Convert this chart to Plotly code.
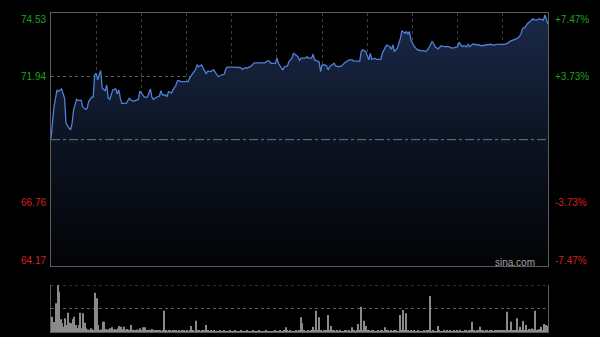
import plotly.graph_objects as go

# ---- data (intraday, HK session 09:30-12:00, 13:00-16:00; minute index 0..330) ----
minutes = [
    0, 2, 4, 5, 6, 7, 9, 10, 12, 13,
    14, 15, 17, 18, 20, 21, 23, 24, 25, 27,
    28, 29, 30, 31, 32, 33, 34, 35, 36, 37,
    38, 39, 41, 42, 43, 44, 45, 46, 47, 49,
    50, 52, 53, 55, 57, 58, 59, 61, 62, 64,
    66, 67, 68, 70, 72, 73, 74, 76, 77, 78,
    80, 81, 83, 84, 85, 86, 91, 92, 95, 96,
    97, 98, 100, 101, 103, 104, 106, 107, 108, 110,
    111, 113, 115, 116, 117, 121, 123, 126, 127, 129,
    130, 132, 133, 135, 140, 142, 144, 145, 146, 148,
    149, 150, 151, 153, 154, 155, 157, 158, 159, 160,
    161, 163, 164, 165, 166, 169, 170, 171, 173, 174,
    175, 178, 179, 180, 182, 183, 184, 185, 188, 189,
    191, 193, 195, 198, 200, 201, 205, 206, 207, 209,
    210, 211, 212, 213, 215, 216, 219, 220, 222, 223,
    225, 226, 227, 228, 230, 231, 232, 233, 235, 236,
    237, 238, 239, 241, 243, 245, 247, 249, 251, 253,
    254, 255, 257, 259, 261, 264, 266, 268, 270, 271,
    273, 274, 276, 277, 278, 280, 282, 284, 286, 290,
    292, 294, 296, 301, 303, 305, 307, 310, 312, 313,
    315, 316, 318, 320, 321, 323, 324, 327, 328, 329,
    330,
]
prices = [
    69.40, 70.70, 71.39, 71.32, 71.39, 71.43, 71.05, 70.02, 69.82, 69.75,
    70.02, 70.57, 71.00, 70.95, 70.97, 70.70, 70.59, 70.63, 70.91, 71.09,
    71.09, 72.00, 72.07, 71.80, 72.00, 72.18, 71.46, 71.39, 71.36, 71.59,
    71.05, 71.00, 71.39, 71.41, 71.43, 71.22, 71.39, 71.05, 70.84, 70.84,
    70.84, 71.05, 70.97, 70.93, 70.97, 71.00, 71.34, 71.14, 71.09, 71.09,
    71.43, 71.09, 71.00, 71.09, 71.14, 71.36, 71.18, 71.18, 71.11, 71.32,
    71.27, 71.39, 71.59, 71.77, 71.77, 71.73, 71.73, 71.87, 72.14, 72.23,
    72.41, 72.34, 72.41, 72.28, 72.04, 72.16, 72.14, 72.18, 72.21, 72.03,
    71.93, 72.00, 72.03, 72.23, 72.32, 72.32, 72.30, 72.30, 72.23, 72.30,
    72.28, 72.32, 72.37, 72.50, 72.50, 72.50, 72.59, 72.57, 72.48, 72.50,
    72.48, 72.69, 72.48, 72.28, 72.21, 72.34, 72.37, 72.55, 72.64, 72.69,
    72.89, 72.82, 72.75, 72.59, 72.69, 72.69, 72.75, 72.69, 72.69, 72.85,
    72.62, 72.55, 72.14, 72.41, 72.41, 72.37, 72.21, 72.34, 72.48, 72.37,
    72.34, 72.37, 72.50, 72.62, 72.62, 72.57, 72.57, 72.96, 73.03, 72.96,
    72.75, 72.62, 72.89, 72.64, 72.69, 72.64, 72.64, 72.89, 73.14, 73.23,
    73.16, 73.05, 73.23, 72.96, 73.10, 73.30, 73.51, 73.82, 73.71, 73.78,
    73.68, 73.78, 73.44, 73.19, 73.05, 73.00, 73.00, 72.96, 73.12, 73.37,
    73.30, 73.16, 73.07, 73.20, 73.16, 73.16, 73.10, 73.12, 73.16, 73.34,
    73.16, 73.20, 73.16, 73.26, 73.16, 73.27, 73.26, 73.23, 73.20, 73.23,
    73.26, 73.23, 73.26, 73.26, 73.30, 73.39, 73.44, 73.51, 73.67, 73.89,
    73.98, 74.08, 74.19, 74.30, 74.26, 74.26, 74.30, 74.26, 74.46, 74.26,
    74.08,
]

# volume per minute (minute 0..330)
volume = [
    153, 100, 100, 287, 470, 403, 127, 87, 53, 137, 70, 193, 93, 87, 127, 153, 70, 40, 70, 193, 37, 187, 93, 37, 25, 20, 37, 27, 20, 393,
    337, 70, 20, 25, 103, 103, 30, 22, 28, 37, 47, 25, 30, 22, 35, 60, 53, 28, 53, 22, 30, 25, 18, 70, 22, 15, 20, 25, 18, 37,
    20, 47, 47, 18, 15, 22, 15, 30, 12, 15, 18, 12, 15, 10, 14, 213, 12, 10, 15, 12, 10, 14, 12, 18, 10, 12, 10, 15, 12, 10,
    12, 10, 14, 60, 12, 10, 113, 15, 12, 10, 14, 12, 15, 70, 12, 10, 14, 10, 12, 10, 8, 10, 12, 9, 10, 12, 10, 8, 10, 12,
    10, 8, 12, 10, 9, 10, 12, 8, 10, 9, 12, 10, 8, 10, 12, 9, 8, 10, 12, 10, 8, 9, 10, 12, 8, 10, 9, 8, 10, 12,
    10, 8, 12, 10, 9, 12, 47, 15, 10, 12, 8, 10, 9, 12, 10, 14, 147, 87, 12, 10, 9, 12, 10, 15, 53, 12, 213, 14, 147, 12,
    10, 12, 14, 15, 170, 12, 60, 15, 12, 10, 14, 10, 12, 10, 9, 12, 15, 10, 12, 10, 47, 12, 10, 14, 80, 12, 253, 15, 113, 60,
    15, 12, 10, 14, 12, 10, 9, 12, 10, 12, 14, 10, 47, 20, 12, 10, 14, 10, 15, 12, 10, 9, 170, 12, 220, 15, 187, 12, 10, 14,
    10, 12, 9, 10, 12, 8, 10, 9, 12, 10, 14, 12, 360, 10, 12, 9, 10, 60, 12, 10, 9, 12, 10, 14, 10, 12, 9, 10, 12, 10,
    12, 10, 14, 9, 10, 12, 15, 10, 12, 14, 103, 12, 10, 14, 12, 53, 15, 12, 10, 14, 12, 10, 15, 12, 10, 14, 12, 15, 12, 14,
    15, 12, 18, 203, 15, 14, 103, 18, 15, 14, 137, 20, 53, 18, 110, 20, 70, 18, 30, 25, 35, 28, 213, 20, 25, 30, 53, 20, 80, 70,
    60,
]
volume_minutes = list(range(len(volume)))

prev_close = 69.35
price_ticks = [74.53, 71.94, 66.76, 64.17]
pct_labels = ["+7.47%", "+3.73%", "-3.73%", "-7.47%"]
grid_minutes = [30, 60, 90, 120, 150, 180, 210, 240, 270, 300]
vol_max = 470

assert len(minutes) == len(prices)

W, H = 600, 337
xl, xr = 51 / W, 548 / W
main_top, main_bot = 1 - 13.3 / H, 1 - 266 / H
vol_top, vol_bot = 1 - 285 / H, 1 - 332 / H

fig = go.Figure()
fig.add_trace(go.Scatter(
    x=minutes, y=prices, mode="lines",
    line=dict(color="#4f80d6", width=1.3),
    fill="tozeroy",
    fillgradient=dict(type="vertical",
                      colorscale=[[0, "#030407"], [0.5, "#0c1322"], [1, "#1b2a4a"]],
                      start=price_ticks[-1], stop=price_ticks[0]),
    hoverinfo="skip", xaxis="x", yaxis="y",
))
fig.add_trace(go.Bar(
    x=volume_minutes, y=volume,
    marker=dict(color="#8a8a8a", line=dict(width=0)),
    hoverinfo="skip", xaxis="x2", yaxis="y2",
))

frame = "#5c5c5c"
fig.update_layout(
    width=W, height=H, margin=dict(l=0, r=0, t=0, b=0),
    paper_bgcolor="#000000", plot_bgcolor="#000000",
    showlegend=False, bargap=0.3,
    font=dict(family="Liberation Sans, Arial, sans-serif", size=10),
    xaxis=dict(domain=[xl, xr], range=[0, 330], tickvals=grid_minutes,
               showticklabels=False, ticks="", showgrid=True,
               gridcolor="#3d3d3d", griddash="dot", gridwidth=1,
               zeroline=False, showline=True, mirror=True,
               linecolor=frame, linewidth=1, anchor="y"),
    yaxis=dict(domain=[main_bot, main_top], range=[price_ticks[-1], price_ticks[0]],
               tickvals=[price_ticks[1], price_ticks[2]], showticklabels=False,
               ticks="", showgrid=True, gridcolor="#5e5e5e", griddash="dot",
               zeroline=False, showline=True, mirror=True,
               linecolor=frame, linewidth=1, anchor="x"),
    xaxis2=dict(domain=[xl, xr], range=[-0.5, 330.5], showticklabels=False,
                ticks="", showgrid=False, zeroline=False, showline=True,
                linecolor=frame, linewidth=1, anchor="y2"),
    yaxis2=dict(domain=[vol_bot, vol_top], range=[0, vol_max], tickvals=[vol_max / 2],
                showticklabels=False, ticks="", showgrid=True,
                gridcolor="#5e5e5e", griddash="dot", zeroline=False,
                showline=True, mirror=True, linecolor=frame, linewidth=1,
                anchor="x2"),
)

# previous close line and volume top border
fig.add_shape(type="line", xref="x domain", yref="y", x0=0, x1=1,
              y0=prev_close, y1=prev_close,
              line=dict(color="#6c7582", width=1, dash="dashdot"), layer="above")
fig.add_shape(type="line", xref="x2 domain", yref="y2", x0=0, x1=1,
              y0=vol_max, y1=vol_max,
              line=dict(color="#5e5e5e", width=1, dash="dot"))

green, red = "#1fa31f", "#d42020"
shifts = [-6, 0, 0, 6]
for val, pct, sh in zip(price_ticks, pct_labels, shifts):
    col = green if val > prev_close else red
    fig.add_annotation(x=48 / W, xref="paper", xanchor="right", y=val, yref="y",
                       yanchor="middle", yshift=sh, text=f"{val:.2f}",
                       showarrow=False, font=dict(color=col, size=10))
    fig.add_annotation(x=553 / W, xref="paper", xanchor="left", y=val, yref="y",
                       yanchor="middle", yshift=sh, text=pct,
                       showarrow=False, font=dict(color=col, size=10))

fig.add_annotation(x=537 / W, xref="paper", xanchor="right", y=1 - 262 / H, yref="paper",
                   yanchor="middle", text="sina.com", showarrow=False,
                   font=dict(color="#a0a0a0", size=10))

fig.write_html("out.html")
